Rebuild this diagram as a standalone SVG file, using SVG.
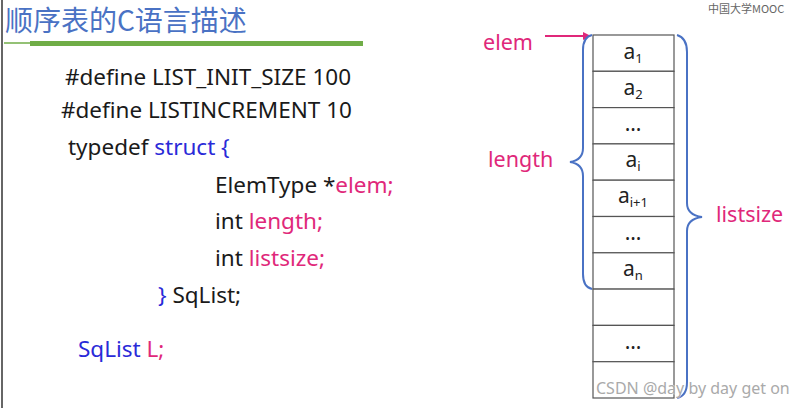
<svg xmlns="http://www.w3.org/2000/svg" width="802" height="408" viewBox="0 0 802 408">
<style>
.code{font-family:"Noto Sans","Liberation Sans",sans-serif;font-size:22.5px;fill:#1a1a1a}
.kw{fill:#2a2ad8}
.pk{fill:#e0287a}
.lbl{font-family:"Noto Sans","Liberation Sans",sans-serif;font-size:21.5px;fill:#e0287a}
.cell{fill:#ffffff;stroke:#555;stroke-width:1.2}
.ct{font-family:"Noto Sans","Liberation Sans",sans-serif;font-size:21px;fill:#222;text-anchor:middle}
.sub{font-size:13px}
.brace{fill:none;stroke:#4a72c4;stroke-width:2}
</style>
<defs>
<marker id="ah" markerWidth="8" markerHeight="8" refX="7" refY="4" orient="auto" markerUnits="userSpaceOnUse">
<path d="M0,0 L8,4 L0,8 Z" fill="#e0287a"/>
</marker>
</defs>
<rect width="802" height="408" fill="#ffffff"/>
<line x1="2" y1="0" x2="2" y2="408" stroke="#333" stroke-width="1.5"/>
<g id="logo"><text x="708" y="13" font-family="'Noto Sans CJK SC',sans-serif" font-size="11" fill="#666">中国大学MOOC</text></g>
<g id="title">
<text x="5" y="31" font-family="'Noto Sans CJK SC','Noto Sans',sans-serif" font-size="28" fill="#4a72c4">顺序表的C语言描述</text>
<line x1="4" y1="43" x2="32" y2="43" stroke="#70ad47" stroke-width="1.5"/>
<rect x="30" y="41" width="333" height="5" fill="#70ad47"/>
</g>
<g id="code">
<text class="code" x="65" y="85">#define LIST_INIT_SIZE 100</text>
<text class="code" x="61" y="118">#define LISTINCREMENT 10</text>
<text class="code" x="68" y="155">typedef <tspan class="kw">struct {</tspan></text>
<text class="code" x="215" y="193">ElemType *<tspan class="pk">elem;</tspan></text>
<text class="code" x="215" y="229">int <tspan class="pk">length;</tspan></text>
<text class="code" x="215" y="266">int <tspan class="pk">listsize;</tspan></text>
<text class="code" x="158" y="303"><tspan class="kw">}</tspan> SqList;</text>
<text class="code" x="78" y="357"><tspan class="kw">SqList</tspan> <tspan class="pk">L;</tspan></text>
</g>
<g id="table">
<rect class="cell" x="593" y="35" width="81" height="36.3"/>
<rect class="cell" x="593" y="71.3" width="81" height="36.3"/>
<rect class="cell" x="593" y="107.6" width="81" height="36.3"/>
<rect class="cell" x="593" y="143.9" width="81" height="36.3"/>
<rect class="cell" x="593" y="180.2" width="81" height="36.3"/>
<rect class="cell" x="593" y="216.5" width="81" height="36.3"/>
<rect class="cell" x="593" y="252.8" width="81" height="36.3"/>
<rect class="cell" x="593" y="289.1" width="81" height="36.3"/>
<rect class="cell" x="593" y="325.4" width="81" height="36.3"/>
<rect class="cell" x="593" y="361.7" width="81" height="36.3"/>
<text class="ct" x="633" y="59">a<tspan class="sub" dy="4">1</tspan></text>
<text class="ct" x="633" y="95">a<tspan class="sub" dy="4">2</tspan></text>
<text class="ct" x="633" y="131">…</text>
<text class="ct" x="633" y="167">a<tspan class="sub" dy="4">i</tspan></text>
<text class="ct" x="633" y="203">a<tspan class="sub" dy="4">i+1</tspan></text>
<text class="ct" x="633" y="240">…</text>
<text class="ct" x="633" y="276">a<tspan class="sub" dy="4">n</tspan></text>
<text class="ct" x="633" y="349">…</text>
</g>
<g id="connectors">
<line x1="545" y1="36" x2="590" y2="36" stroke="#e0287a" stroke-width="2" marker-end="url(#ah)"/>
<path class="brace" d="M592,35 Q583,37 583,50 L583,148 Q583,160 570,162 Q583,164 583,176 L583,274 Q583,287 592,289"/>
<path class="brace" d="M677,35 Q687,38 687,52 L687,203 Q687,215 702,217 Q687,219 687,231 L687,382 Q687,396 677,398"/>
</g>
<g id="labels">
<text class="lbl" x="483" y="50">elem</text>
<text class="lbl" x="488" y="167">length</text>
<text class="lbl" x="716" y="222">listsize</text>
</g>
<text x="596" y="394" font-family="'Noto Sans','Liberation Sans',sans-serif" font-size="16" fill="#aaa" stroke="#fff" stroke-width="0.5" paint-order="stroke">CSDN @day by day get on</text>
</svg>
